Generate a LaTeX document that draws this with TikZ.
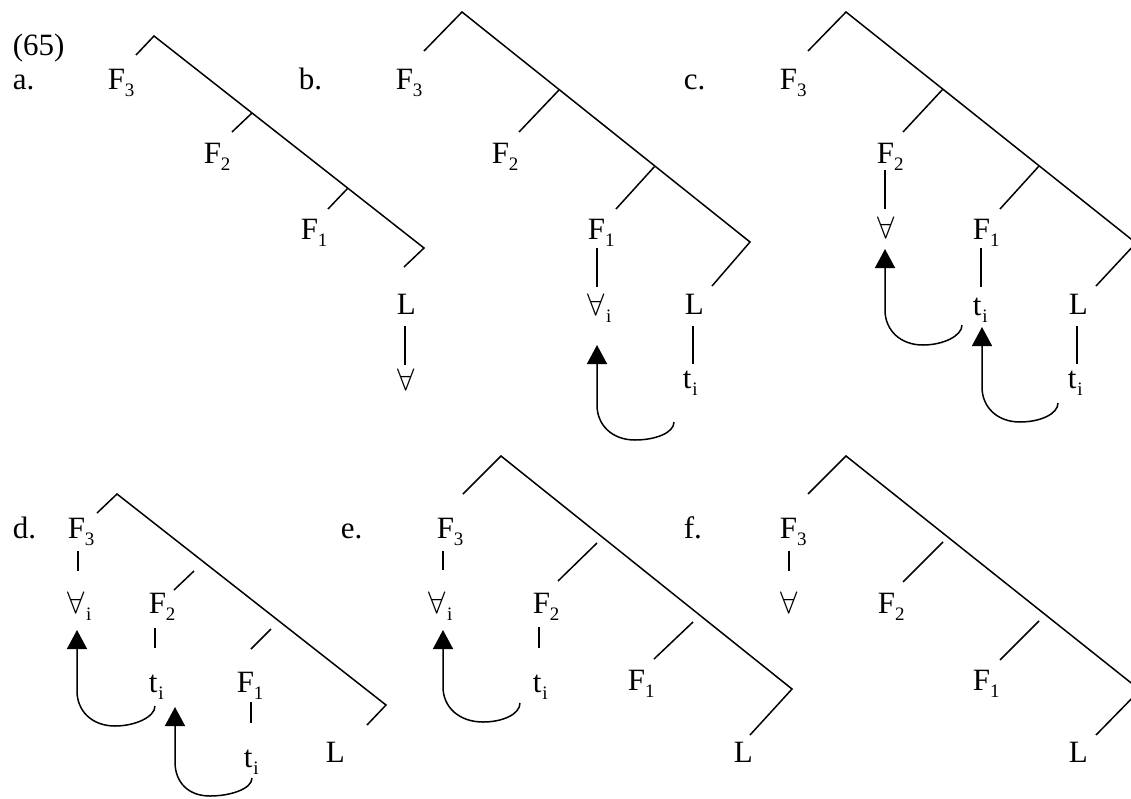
\documentclass[tikz,border=0pt]{standalone}
\usepackage{graphicx}
\usepackage{fontspec}
\setmainfont{Liberation Serif}
\usetikzlibrary{arrows.meta,calc}
\newcommand\sbs[1]{\raisebox{-7pt}{\fontsize{19}{19}\selectfont #1}}
\newcommand\fa{\scalebox{1.25}{\fontsize{24.88}{24.88}\selectfont$\forall$}}
\newcommand\fai{\fa\kern1pt\sbs{i}}
\newcommand\ti{t\kern1pt\sbs{i}}
\begin{document}
\begin{tikzpicture}[x=1pt,y=-1pt,line width=1.5pt,
  lbl/.style={inner sep=0pt,anchor=base west,font=\fontsize{31}{31}\selectfont},
  arr/.style={-{Triangle[width=20pt,length=19pt]}},
  branch/.style={line join=miter}]
\useasboundingbox (0,0) rectangle (1131,798);
% ---------------- a ----------------
\node[lbl] (num) at (12,55) {(65)};
\node[lbl] (la) at (12,89) {a.};
\node[lbl] (F3a) at (107,89) {F\sbs{3}};
\node[lbl] (F2a) at (203,163) {F\sbs{2}};
\node[lbl] (F1a) at (300,239) {F\sbs{1}};
\node[lbl] (La) at (396,314) {L};
\node[lbl] (Aa) at (397,390) {\fa};
\draw[branch] (136,55) -- (154,36) -- (424,248) -- (404,267);
\draw (252,113) -- (232,132);
\draw (348,188) -- (328,209);
\draw ($(La.base west)+(9,12)$) -- ($(Aa.base west)+(8,-25)$);
% ---------------- b ----------------
\node[lbl] (lb) at (298,89) {b.};
\node[lbl] (F3b) at (395,89) {F\sbs{3}};
\node[lbl] (F2b) at (491,163) {F\sbs{2}};
\node[lbl] (F1b) at (587,239) {F\sbs{1}};
\node[lbl] (Ab) at (587,315) {\fai};
\node[lbl] (Lb) at (684,314) {L};
\node[lbl] (tb) at (682,388) {\ti};
\draw[branch] (424,51) -- (462,12) -- (750,242) -- (712,286);
\draw (559,90) -- (519,132);
\draw (655,166) -- (616,209);
\draw ($(F1b.base west)+(10,9)$) -- ($(Ab.base west)+(10,-28)$);
\draw ($(Lb.base west)+(9,12)$) -- ($(tb.base west)+(11,-24)$);
\coordinate (bB) at (635,440);
\coordinate (bL) at (597,405);
\draw[arr] ($(tb.base west)+(-8,34)$) .. controls +(0,11) and +(20,0) .. (bB)
  .. controls +(-23,0) and +(0,20) .. (bL) -- ($(Ab.base west)+(10,30)$);
% ---------------- c ----------------
\node[lbl] (lc) at (683,89) {c.};
\node[lbl] (F3c) at (779,89) {F\sbs{3}};
\node[lbl] (F2c) at (876,163) {F\sbs{2}};
\node[lbl] (Ac) at (877,238) {\fa};
\node[lbl] (F1c) at (972,239) {F\sbs{1}};
\node[lbl] (t1c) at (972,315) {\ti};
\node[lbl] (Lc) at (1068,314) {L};
\node[lbl] (t2c) at (1067,388) {\ti};
\draw[branch] (808,51) -- (846,12) -- (1136,243) -- (1096,286);
\draw (943,89) -- (903,132);
\draw (1039,166) -- (1000,209);
\draw ($(F2c.base west)+(9,7)$) -- ($(Ac.base west)+(8,-29)$);
\draw ($(F1c.base west)+(9,9)$) -- ($(t1c.base west)+(9,-28)$);
\draw ($(Lc.base west)+(9,12)$) -- ($(t2c.base west)+(10,-24)$);
\coordinate (c1B) at (923,345);
\coordinate (c1L) at (885,310);
\draw[arr] ($(t1c.base west)+(-10,10)$) .. controls +(0,11) and +(20,0) .. (c1B)
  .. controls +(-23,0) and +(0,20) .. (c1L) -- ($(Ac.base west)+(8,11)$);
\coordinate (c2B) at (1020,422);
\coordinate (c2L) at (982,387);
\draw[arr] ($(t2c.base west)+(-9,15)$) .. controls +(0,11) and +(20,0) .. (c2B)
  .. controls +(-23,0) and +(0,20) .. (c2L) -- ($(t1c.base west)+(10,12)$);
% ---------------- d ----------------
\node[lbl] (ld) at (12,538) {d.};
\node[lbl] (F3d) at (67,538) {F\sbs{3}};
\node[lbl] (Ad) at (67,613) {\fai};
\node[lbl] (F2d) at (148,613) {F\sbs{2}};
\node[lbl] (t1d) at (148,692) {\ti};
\node[lbl] (F1d) at (236,692) {F\sbs{1}};
\node[lbl] (t2d) at (243,767) {\ti};
\node[lbl] (Ld) at (325,762) {L};
\draw[branch] (97,513) -- (117,494) -- (386,705) -- (367,725);
\draw (194,571) -- (174,590);
\draw (271,629) -- (251,649);
\draw ($(F3d.base west)+(11,13)$) -- ($(Ad.base west)+(11,-42)$);
\draw ($(F2d.base west)+(7,15)$) -- ($(t1d.base west)+(7,-44)$);
\draw ($(F1d.base west)+(15,10)$) -- ($(t2d.base west)+(8,-44)$);
\coordinate (d1B) at (115,726);
\coordinate (d1L) at (77,691);
\draw[arr] ($(t1d.base west)+(7,14)$) .. controls +(0,11) and +(20,0) .. (d1B)
  .. controls +(-23,0) and +(0,20) .. (d1L) -- ($(Ad.base west)+(10,17)$);
\coordinate (d2B) at (210,796);
\coordinate (d2L) at (175,762);
\draw[arr] ($(t2d.base west)+(9,11)$) .. controls +(0,11) and +(20,0) .. (d2B)
  .. controls +(-22,0) and +(0,20) .. (d2L) -- ($(t1d.base west)+(27,15)$);
% ---------------- e ----------------
\node[lbl] (le) at (340,538) {e.};
\node[lbl] (F3e) at (436,538) {F\sbs{3}};
\node[lbl] (Ae) at (428,613) {\fai};
\node[lbl] (F2e) at (532,613) {F\sbs{2}};
\node[lbl] (t1e) at (532,692) {\ti};
\node[lbl] (F1e) at (627,690) {F\sbs{1}};
\node[lbl] (Le) at (733,762) {L};
\draw[branch] (463,494) -- (501,456) -- (792,689) -- (750,735);
\draw (597,543) -- (558,581);
\draw (693,622) -- (654,659);
\draw ($(F3e.base west)+(7,13)$) -- ($(Ae.base west)+(15,-43)$);
\draw ($(F2e.base west)+(7,14)$) -- ($(t1e.base west)+(7,-44)$);
\coordinate (eB) at (483,722);
\coordinate (eL) at (443,687);
\draw[arr] ($(t1e.base west)+(-12,11)$) .. controls +(0,11) and +(20,0) .. (eB)
  .. controls +(-24,0) and +(0,20) .. (eL) -- ($(Ae.base west)+(15,17)$);
% ---------------- f ----------------
\node[lbl] (lf) at (683,538) {f.};
\node[lbl] (F3f) at (779,538) {F\sbs{3}};
\node[lbl] (Af) at (780,613) {\fa};
\node[lbl] (F2f) at (877,613) {F\sbs{2}};
\node[lbl] (F1f) at (972,690) {F\sbs{1}};
\node[lbl] (Lf) at (1068,762) {L};
\draw[branch] (808,494) -- (846,456) -- (1140,690) -- (1096,735);
\draw (943,542) -- (903,582);
\draw (1039,621) -- (1000,660);
\draw ($(F3f.base west)+(10,13)$) -- ($(Af.base west)+(9,-42)$);
\end{tikzpicture}
\end{document}
